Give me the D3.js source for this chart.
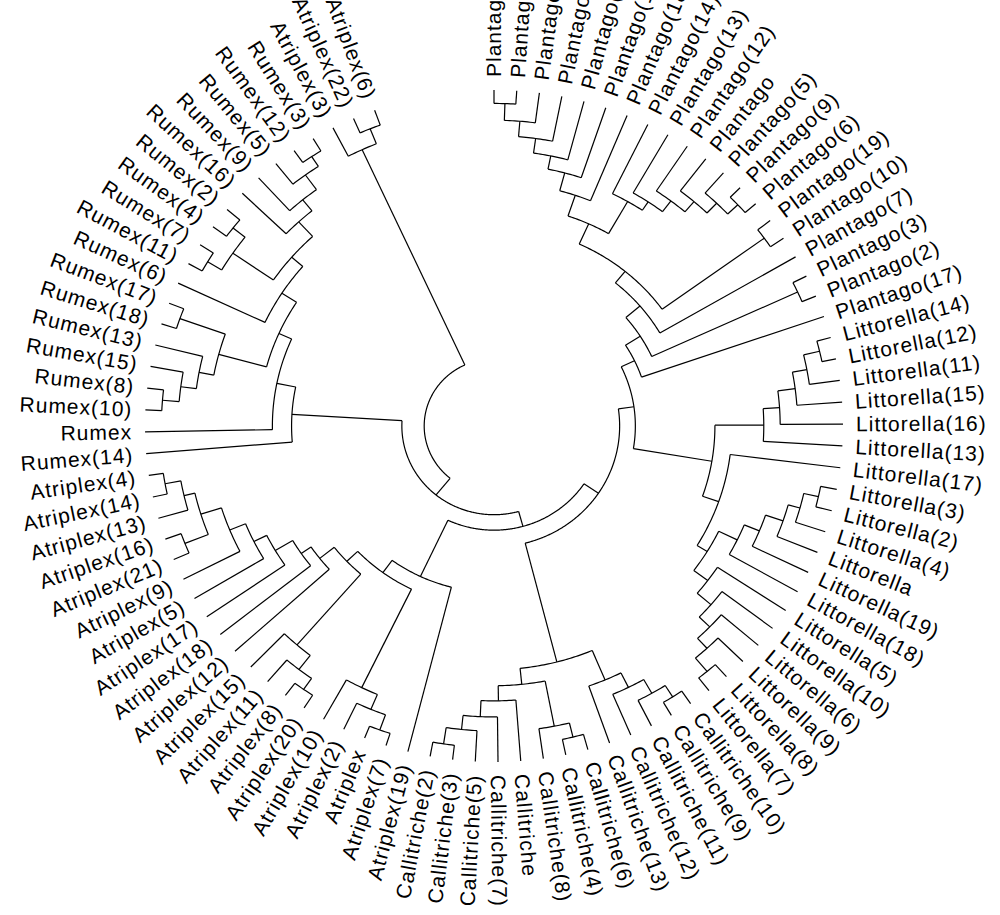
<!DOCTYPE html>
<html>
  <head>
    <meta charset="utf-8">
    <title>Fan dendrogram</title>
    <script src="https://d3js.org/d3.v7.min.js"></script>
    <style type="text/css">
      body { margin: 0; background: #fff; }
      .branch { fill: none; stroke: #000; stroke-width: 1.2; }
      .tip { font-family: "Liberation Sans", Arial, sans-serif; font-size: 21px; letter-spacing: 1px; fill: #000; }
    </style>
  </head>
  <body>
    <div id="chart"></div>
    <script>

      // tips in drawing order, clockwise from the top
      var leafLabels = [
        "Plantago(20)", "Plantago(4)", "Plantago(8)", "Plantago(16)", "Plantago(15)", "Plantago(11)",
        "Plantago(18)", "Plantago(14)", "Plantago(13)", "Plantago(12)", "Plantago", "Plantago(5)",
        "Plantago(9)", "Plantago(6)", "Plantago(19)", "Plantago(10)", "Plantago(7)", "Plantago(3)",
        "Plantago(2)", "Plantago(17)",
        "Littorella(14)", "Littorella(12)", "Littorella(11)", "Littorella(15)", "Littorella(16)",
        "Littorella(13)", "Littorella(17)", "Littorella(3)", "Littorella(2)", "Littorella(4)",
        "Littorella", "Littorella(19)", "Littorella(18)", "Littorella(5)", "Littorella(10)",
        "Littorella(6)", "Littorella(9)", "Littorella(8)", "Littorella(7)",
        "Callitriche(10)", "Callitriche(9)", "Callitriche(11)", "Callitriche(12)", "Callitriche(13)",
        "Callitriche(6)", "Callitriche(4)", "Callitriche(8)", "Callitriche", "Callitriche(7)",
        "Callitriche(5)", "Callitriche(3)", "Callitriche(2)",
        "Atriplex(19)", "Atriplex(7)", "Atriplex", "Atriplex(2)", "Atriplex(10)", "Atriplex(20)",
        "Atriplex(8)", "Atriplex(11)", "Atriplex(15)", "Atriplex(12)", "Atriplex(18)", "Atriplex(17)",
        "Atriplex(5)", "Atriplex(9)", "Atriplex(21)", "Atriplex(16)", "Atriplex(13)", "Atriplex(14)",
        "Atriplex(4)",
        "Rumex(14)", "Rumex", "Rumex(10)", "Rumex(8)", "Rumex(15)", "Rumex(13)", "Rumex(18)",
        "Rumex(17)", "Rumex(6)", "Rumex(11)", "Rumex(7)", "Rumex(4)", "Rumex(2)", "Rumex(16)",
        "Rumex(9)", "Rumex(5)", "Rumex(12)", "Rumex(3)",
        "Atriplex(3)", "Atriplex(22)", "Atriplex(6)"
      ];

      // merges: [node, child, child, height]  (tips at height 0)
      var plantagoMerges = [
        ["p1", "Plantago(20)", "Plantago(4)", 4],
        ["p2", "p1", "Plantago(8)", 9],
        ["p3", "p2", "Plantago(16)", 13.6],
        ["p4", "p3", "Plantago(15)", 18],
        ["p5", "p4", "Plantago(11)", 22],
        ["p6", "p5", "Plantago(18)", 27.5],
        ["p7", "Plantago(9)", "Plantago(6)", 4],
        ["p8", "Plantago(5)", "p7", 8],
        ["p9", "Plantago", "p8", 12],
        ["p10", "Plantago(12)", "p9", 16],
        ["p11", "Plantago(13)", "p10", 20],
        ["p12", "Plantago(14)", "p11", 23],
        ["p13", "p6", "p12", 34],
        ["p14", "Plantago(19)", "Plantago(10)", 4.5],
        ["p15", "p14", "p13", 40.6],
        ["p16", "Plantago(7)", "p15", 45],
        ["p17", "Plantago(3)", "Plantago(2)", 4.3],
        ["p18", "p17", "p16", 50.3],
        ["p19", "Plantago(17)", "p18", 55.3]
      ];

      var littorellaMerges = [
        ["l1", "Littorella(14)", "Littorella(12)", 4.1],
        ["l2", "l1", "Littorella(11)", 8.8],
        ["l3", "l2", "Littorella(15)", 13],
        ["l4", "l3", "Littorella(16)", 18],
        ["l5", "l4", "Littorella(13)", 22.7],
        ["l6", "Littorella(3)", "Littorella(2)", 4.7],
        ["l7", "l6", "Littorella(4)", 9],
        ["l8", "l7", "Littorella", 12.5],
        ["l9", "l8", "Littorella(19)", 17.8],
        ["l10", "l9", "Littorella(18)", 22.5],
        ["l11", "Littorella(8)", "Littorella(7)", 4.8],
        ["l12", "Littorella(9)", "l11", 10],
        ["l13", "Littorella(6)", "l12", 14],
        ["l14", "Littorella(10)", "l13", 18.2],
        ["l15", "Littorella(5)", "l14", 23.4],
        ["l16", "l10", "l15", 28.4],
        ["l17", "Littorella(17)", "l16", 31.8],
        ["l18", "l5", "l17", 36.7]
      ];

      var callitricheMerges = [
        ["c1", "Callitriche(3)", "Callitriche(2)", 4.3],
        ["c2", "Callitriche(5)", "c1", 9.2],
        ["c3", "Callitriche(7)", "c2", 13.4],
        ["c4", "Callitriche", "c3", 18.2],
        ["c5", "Callitriche(4)", "Callitriche(6)", 4.7],
        ["c6", "Callitriche(8)", "c5", 9],
        ["c7", "c6", "c4", 22.7],
        ["c8", "Callitriche(10)", "Callitriche(9)", 4.5],
        ["c9", "Callitriche(11)", "c8", 8.5],
        ["c10", "Callitriche(12)", "c9", 13.2],
        ["c11", "Callitriche(13)", "c10", 18],
        ["c12", "c11", "c7", 27.5]
      ];

      var atriplexMerges = [
        ["a1", "Atriplex(4)", "Atriplex(14)", 4.2],
        ["a2", "a1", "Atriplex(13)", 8.8],
        ["a3", "Atriplex(16)", "Atriplex(21)", 4.8],
        ["a4", "a2", "a3", 12],
        ["a5", "a4", "Atriplex(9)", 18.2],
        ["a6", "a5", "Atriplex(5)", 23.1],
        ["a7", "a6", "Atriplex(17)", 27.2],
        ["a8", "a7", "Atriplex(18)", 33],
        ["a9", "a8", "Atriplex(12)", 36.4],
        ["a10", "Atriplex(8)", "Atriplex(20)", 4.5],
        ["a11", "Atriplex(11)", "a10", 8.5],
        ["a12", "Atriplex(15)", "a11", 13.8],
        ["a13", "a9", "a12", 41.7],
        ["a14", "Atriplex", "Atriplex(7)", 3.8],
        ["a15", "Atriplex(2)", "a14", 8.6],
        ["a16", "Atriplex(10)", "a15", 13.4],
        ["a17", "a13", "a16", 46],
        ["a18", "a17", "Atriplex(19)", 50.5],
        ["a19", "Atriplex(22)", "Atriplex(6)", 4.7],
        ["a20", "Atriplex(3)", "a19", 9.5]
      ];

      var rumexMerges = [
        ["r1", "Rumex(8)", "Rumex(10)", 4.7],
        ["r2", "Rumex(15)", "r1", 9.5],
        ["r3", "Rumex(13)", "r2", 14],
        ["r4", "Rumex(18)", "Rumex(17)", 4.5],
        ["r5", "r3", "r4", 18.3],
        ["r6", "Rumex(11)", "Rumex(7)", 4.5],
        ["r7", "Rumex(4)", "Rumex(2)", 4.8],
        ["r8", "r6", "r7", 9.2],
        ["r9", "Rumex(12)", "Rumex(3)", 4.3],
        ["r10", "Rumex(5)", "r9", 7.8],
        ["r11", "Rumex(9)", "r10", 13.2],
        ["r12", "Rumex(16)", "r11", 17.4],
        ["r13", "r8", "r12", 23.3],
        ["r14", "Rumex(6)", "r13", 27.5],
        ["r15", "r5", "r14", 32.5],
        ["r16", "Rumex", "r15", 36.5],
        ["r17", "Rumex(14)", "r16", 42]
      ];

      var backboneMerges = [
        ["e", "l18", "p19", 59.5],
        ["d", "c12", "e", 64],
        ["cc", "a18", "d", 69],
        ["b", "r17", "cc", 73.6],
        ["root", "a20", "b", 80]
      ];

      var width = 1000
      var height = 915
      var cx = 494, cy = 426, rx = 349, ry = 336
      var openAngle = 20
      var labelOffset = 13

      // build the tree
      var nodes = {}
      leafLabels.forEach(function(name, i) {
        nodes[name] = { name: name, h: 0, index: i }
      })
      var allMerges = [].concat(plantagoMerges, littorellaMerges, callitricheMerges,
                                atriplexMerges, rumexMerges, backboneMerges)
      allMerges.forEach(function(m) {
        nodes[m[0]] = { name: m[0], h: m[3], children: [nodes[m[1]], nodes[m[2]]] }
      })
      var root = d3.hierarchy(nodes["root"])

      // scales
      var x = d3.scaleLinear().domain([-1, 1]).range([cx - rx, cx + rx])
      var y = d3.scaleLinear().domain([-1, 1]).range([cy + ry, cy - ry])
      var radius = d3.scaleLinear().domain([0, 100]).range([1, 0])
      var angle = d3.scaleLinear()
        .domain([0, leafLabels.length - 1])
        .range([90, 90 - (360 - openAngle)])

      root.eachAfter(function(d) {
        d.r = radius(d.data.h)
        if (d.children) {
          d.a = d3.mean(d.children, function(c) { return c.a })
        } else {
          d.a = angle(d.data.index)
        }
      })

      var rad = Math.PI / 180
      function pt(r, a) {
        return [x(r * Math.cos(a * rad)), y(r * Math.sin(a * rad))]
      }
      var line = d3.line()

      var svg = d3.select("#chart")
        .append("svg")
          .attr("width", width)
          .attr("height", height)

      // radial edges
      svg.append("g").selectAll("path")
        .data(root.descendants().slice(1))
        .enter()
        .append("path")
          .attr("class", "branch")
          .attr("d", function(d) {
            return line([pt(d.parent.r, d.a), pt(d.r, d.a)])
          })

      // arcs of internal nodes
      svg.append("g").selectAll("path")
        .data(root.descendants().filter(function(d) { return d.children }))
        .enter()
        .append("path")
          .attr("class", "branch")
          .attr("d", function(d) {
            var a0 = d3.min(d.children, function(c) { return c.a })
            var a1 = d3.max(d.children, function(c) { return c.a })
            var n = Math.max(2, Math.ceil((a1 - a0) / 0.5))
            var pts = d3.range(n + 1).map(function(i) {
              return pt(d.r, a0 + (a1 - a0) * i / n)
            })
            return line(pts)
          })

      // tip labels
      svg.append("g").selectAll("text")
        .data(root.leaves())
        .enter()
        .append("text")
          .attr("class", "tip")
          .attr("dy", "0.35em")
          .attr("transform", function(d) {
            var p = pt(1, d.a)
            var dx = rx * Math.cos(d.a * rad), dy = -ry * Math.sin(d.a * rad)
            var len = Math.sqrt(dx * dx + dy * dy)
            dx /= len; dy /= len
            var phi = Math.atan2(dy, dx) / rad
            var right = Math.cos(d.a * rad) > -1e-6
            return "translate(" + (p[0] + labelOffset * dx) + "," + (p[1] + labelOffset * dy) + ")"
              + " rotate(" + (right ? phi : phi + 180) + ")"
          })
          .attr("text-anchor", function(d) {
            return Math.cos(d.a * rad) > -1e-6 ? "start" : "end"
          })
          .text(function(d) { return d.data.name })

    </script>
  </body>
</html>
